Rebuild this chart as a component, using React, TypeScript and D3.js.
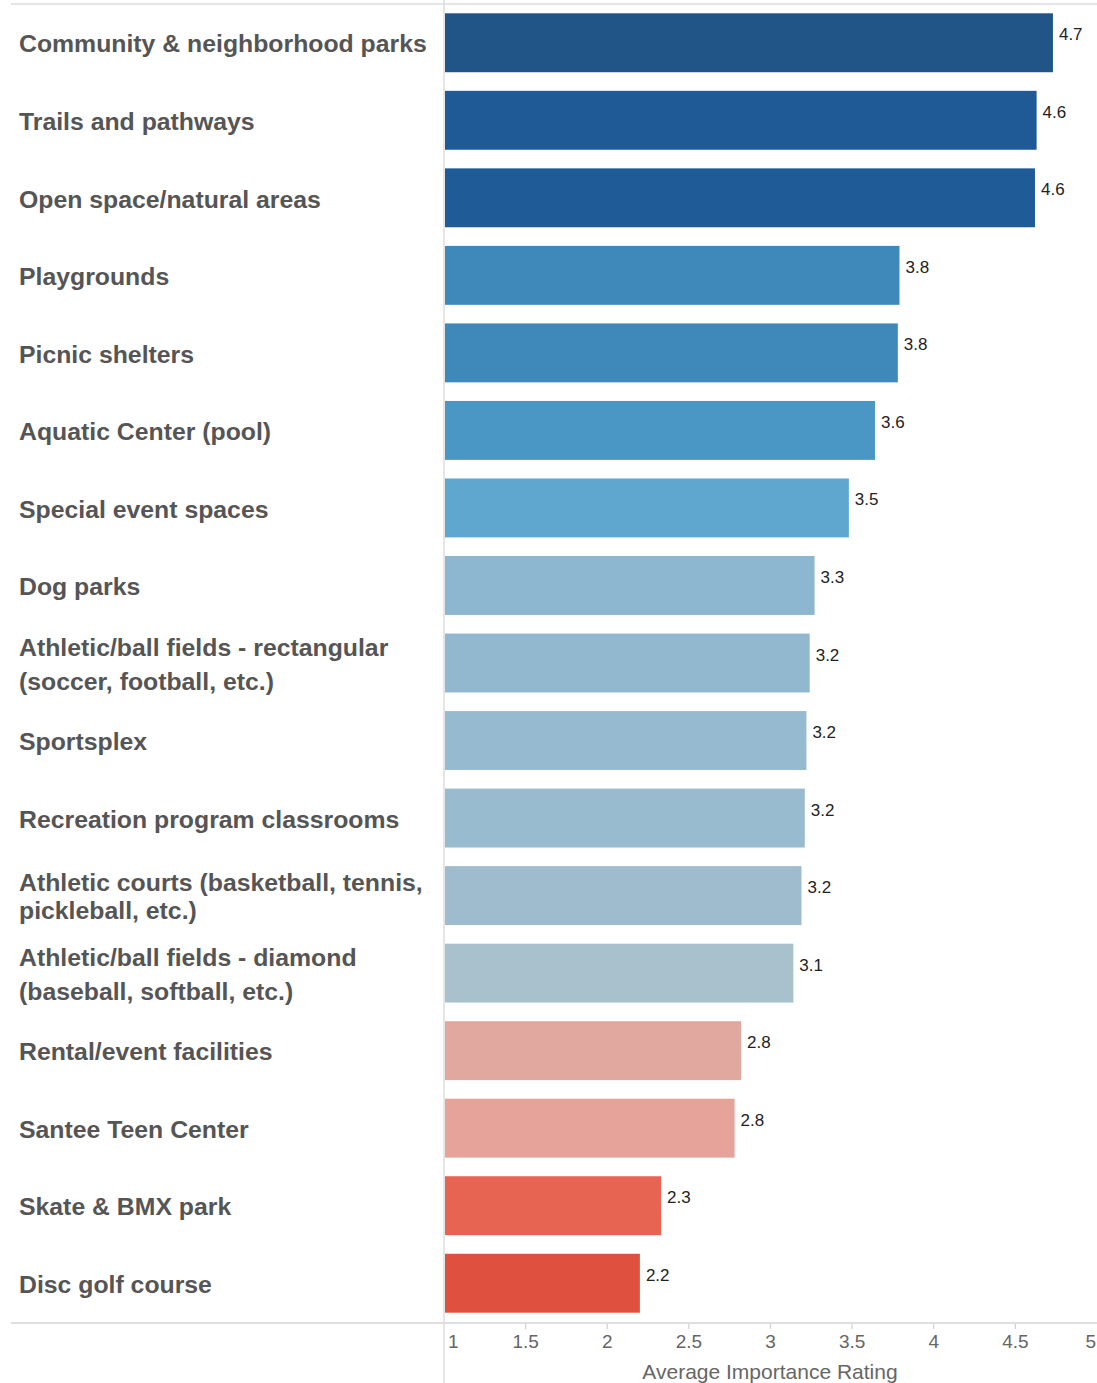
import React from "react";
import * as d3 from "d3";

const categories: string[][] = [
  ["Community & neighborhood parks"],
  ["Trails and pathways"],
  ["Open space/natural areas"],
  ["Playgrounds"],
  ["Picnic shelters"],
  ["Aquatic Center (pool)"],
  ["Special event spaces"],
  ["Dog parks"],
  ["Athletic/ball fields - rectangular", "(soccer, football, etc.)"],
  ["Sportsplex"],
  ["Recreation program classrooms"],
  ["Athletic courts (basketball, tennis,", "pickleball, etc.)"],
  ["Athletic/ball fields - diamond", "(baseball, softball, etc.)"],
  ["Rental/event facilities"],
  ["Santee Teen Center"],
  ["Skate & BMX park"],
  ["Disc golf course"],
];

const values: number[] = [
  4.73, 4.63, 4.62, 3.79, 3.78, 3.64, 3.48, 3.27, 3.24, 3.22, 3.21, 3.19, 3.14,
  2.82, 2.78, 2.33, 2.2,
];

const valueLabels: string[] = [
  "4.7", "4.6", "4.6", "3.8", "3.8", "3.6", "3.5", "3.3", "3.2", "3.2", "3.2",
  "3.2", "3.1", "2.8", "2.8", "2.3", "2.2",
];

const barColors: string[] = [
  "#215487", "#1f5a96", "#1f5b97", "#3e89ba", "#3f89ba", "#4a97c5", "#5fa7cf",
  "#8db7d1", "#92b8d0", "#96bad0", "#99bbd0", "#9fbccf", "#a9c1cd",
  "#e1a8a0", "#e6a399", "#e86452", "#df513e",
];

const xTicks: number[] = [1, 1.5, 2, 2.5, 3, 3.5, 4, 4.5, 5];
const xTitle = "Average Importance Rating";

const W = 1097;
const H = 1383;

export default function App() {
  const x = d3.scaleLinear().domain([1, 5]).range([444, 1097]);
  const ids = categories.map((_, i) => String(i));
  const y = d3
    .scaleBand<string>()
    .domain(ids)
    .range([4, 1322])
    .paddingInner(0.24)
    .paddingOuter(0.12);
  const bw = y.bandwidth();
  const font = "'Liberation Sans', Arial, sans-serif";

  return (
    <svg
      width={W}
      height={H}
      style={{ position: "absolute", left: 0, top: 0, background: "#fff" }}
      fontFamily={font}
    >
      {/* frame lines */}
      <line x1={11} x2={W} y1={4} y2={4} stroke="#dcdcdc" strokeWidth={1.5} />
      <line x1={11} x2={W} y1={1323} y2={1323} stroke="#d4d4d4" strokeWidth={1.5} />
      <line x1={444} x2={444} y1={0} y2={H} stroke="#dcdcdc" strokeWidth={1.5} />

      {/* bars */}
      {values.map((v, i) => {
        const y0 = y(String(i)) as number;
        return (
          <g key={i}>
            <rect
              x={x(1) + 1}
              y={y0}
              width={x(v) - x(1) - 1}
              height={bw}
              fill={barColors[i]}
            />
            <text
              x={x(v) + 6}
              y={y0 + 27}
              fontSize={17}
              fill="#222"
            >
              {valueLabels[i]}
            </text>
          </g>
        );
      })}

      {/* category labels */}
      {categories.map((lines, i) => {
        const cy = (y(String(i)) as number) + bw / 2 + 1;
        const lh = i === 11 ? 28 : 34;
        const start = cy - ((lines.length - 1) * lh) / 2;
        return (
          <text
            key={i}
            x={19}
            fontSize={24.8}
            fontWeight="bold"
            fill="#555"
          >
            {lines.map((ln, j) => (
              <tspan key={j} x={19} y={start + j * lh} dy="0.35em">
                {ln}
              </tspan>
            ))}
          </text>
        );
      })}

      {/* x axis ticks */}
      {xTicks.map((t, i) => {
        const px = x(t);
        const anchor = i === 0 ? "start" : i === xTicks.length - 1 ? "end" : "middle";
        const tx = i === 0 ? px + 4 : i === xTicks.length - 1 ? px - 1 : px;
        return (
          <g key={t}>
            {i > 0 && i < xTicks.length - 1 && (
              <line x1={px} x2={px} y1={1324} y2={1329} stroke="#d0d0d0" strokeWidth={1.2} />
            )}
            <text
              x={tx}
              y={1341}
              dy="0.35em"
              textAnchor={anchor}
              fontSize={19}
              fill="#666"
            >
              {d3.format("")(t)}
            </text>
          </g>
        );
      })}
      <text
        x={770}
        y={1372}
        dy="0.35em"
        textAnchor="middle"
        fontSize={21}
        fill="#666"
      >
        {xTitle}
      </text>
    </svg>
  );
}
